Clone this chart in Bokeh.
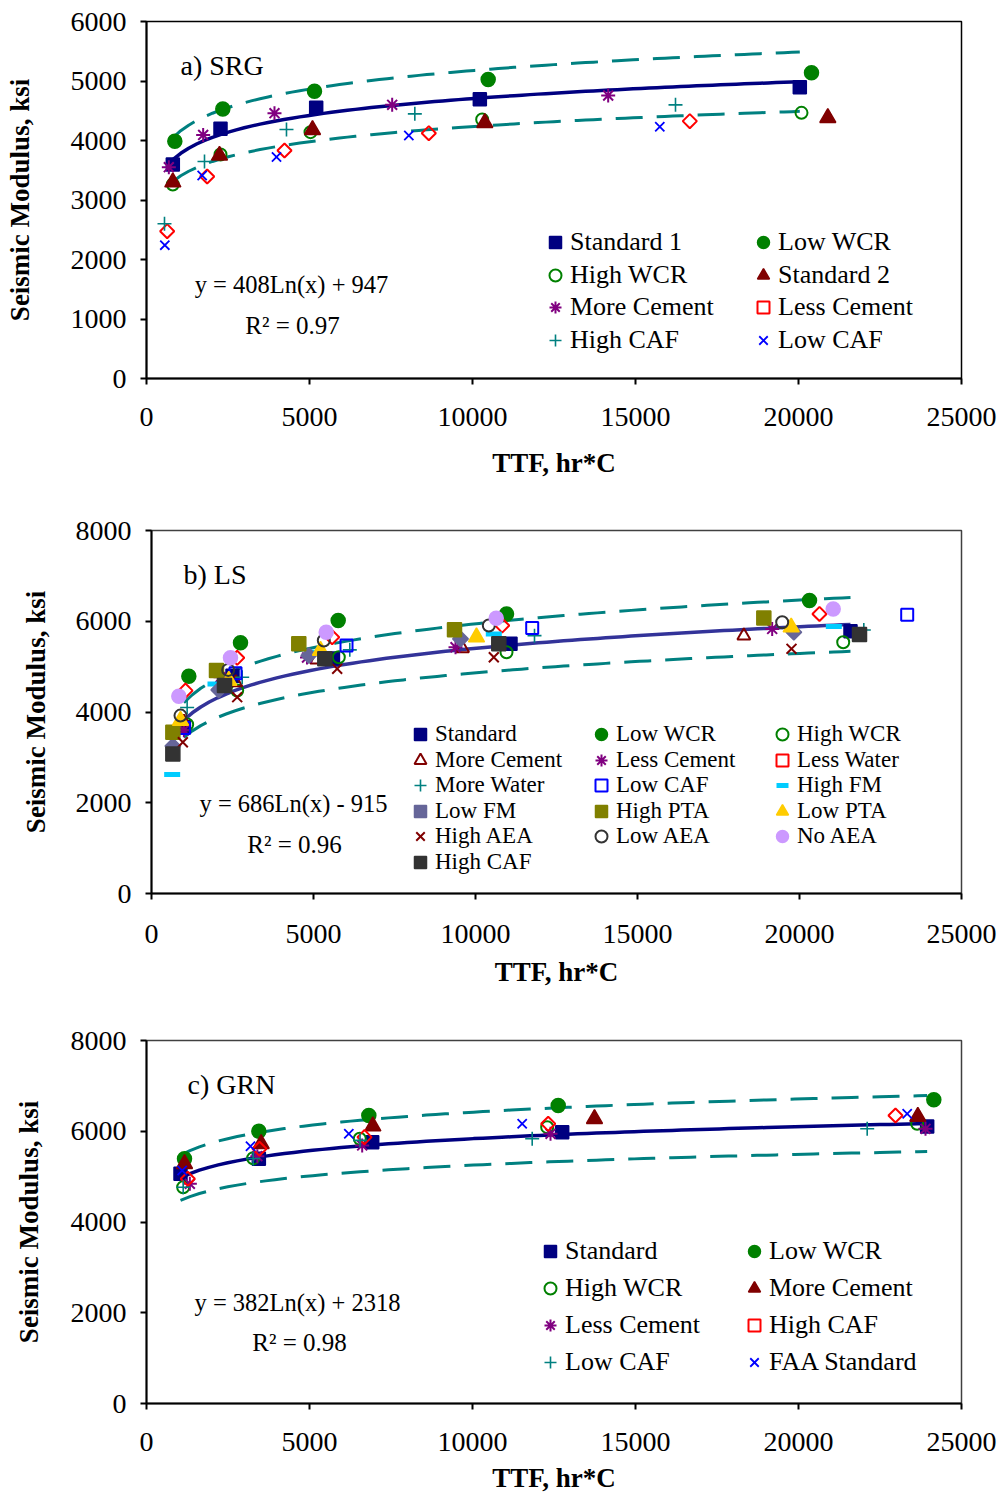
import numpy as np
from bokeh.plotting import figure
from bokeh.layouts import column
from bokeh.models import Legend, LegendItem, Label, FixedTicker, Range1d
from bokeh.embed import file_html
from bokeh.resources import INLINE

FONT = "Liberation Serif"

# ---------------- data: panel a) SRG ----------------
A_NAMES = ["Standard 1", "Low WCR", "High WCR", "Standard 2",
           "More Cement", "Less Cement", "High CAF", "Low CAF"]
a_standard1_x = [807, 2270, 5205, 10225, 20040]
a_standard1_y = [3597, 4197, 4549, 4695, 4896]
a_lowwcr_x = [869, 2341, 5153, 10481, 20399]
a_lowwcr_y = [3989, 4530, 4829, 5025, 5137]
a_highwcr_x = [807, 2270, 5031, 10297, 20092]
a_highwcr_y = [3261, 3765, 4140, 4353, 4465]
a_standard2_x = [807, 2239, 5092, 10377, 20899]
a_standard2_y = [3300, 3748, 4179, 4297, 4381]
a_morecem_x = [685, 1738, 3926, 7536, 14162]
a_morecem_y = [3552, 4094, 4459, 4600, 4756]
a_lesscem_x = [634, 1861, 4233, 8660, 16666]
a_lesscem_y = [2476, 3395, 3832, 4123, 4325]
a_highcaf_x = [552, 1779, 4294, 8231, 16227]
a_highcaf_y = [2600, 3647, 4185, 4448, 4599]
a_lowcaf_x = [562, 1708, 3988, 8047, 15745]
a_lowcaf_y = [2241, 3412, 3722, 4084, 4230]
A_TREND = (408, 947)      # y = a*Ln(x) + b
A_R2 = 0.97

# ---------------- data: panel b) LS ----------------
B_NAMES = ["Standard", "Low WCR", "High WCR", "More Cement", "Less Cement",
           "Less Water", "More Water", "Low CAF", "High FM", "Low FM",
           "High PTA", "Low PTA", "High AEA", "Low AEA", "No AEA", "High CAF"]
b_standard_x = [1000, 2500, 5600, 11080, 21574]
b_standard_y = [3664, 4800, 5180, 5502, 5780]
b_lowwcr_x = [1152, 2747, 5762, 10957, 20309]
b_lowwcr_y = [4787, 5524, 6016, 6161, 6456]
b_highwcr_x = [1101, 2645, 5781, 10957, 21349]
b_highwcr_y = [3723, 4473, 5207, 5317, 5538]
b_morecem_x = [1000, 2600, 5100, 9600, 18282]
b_morecem_y = [3780, 4650, 5150, 5400, 5683]
b_lesscem_x = [1000, 2130, 4800, 9383, 19157]
b_lesscem_y = [3600, 4766, 5200, 5427, 5831]
b_lesswater_x = [1049, 2645, 5577, 10824, 20617]
b_lesswater_y = [4471, 5194, 5648, 5905, 6161]
b_morewater_x = [1100, 2799, 6120, 11821, 21985]
b_morewater_y = [4100, 4766, 5370, 5683, 5808]
b_lowcaf_x = [1000, 2593, 6019, 11750, 23324]
b_lowcaf_y = [3650, 4854, 5465, 5852, 6146]
b_highfm_x = [638, 1975, 5009, 10565, 21059]
b_highfm_y = [2621, 4619, 5317, 5720, 5883]
b_lowfm_x = [659, 2077, 4855, 9537, 19825]
b_lowfm_y = [3250, 4488, 5245, 5612, 5758]
b_highpta_x = [659, 2006, 4546, 9352, 18899]
b_highpta_y = [3554, 4912, 5502, 5810, 6073]
b_lowpta_x = [895, 2386, 5216, 10031, 19744]
b_lowpta_y = [3811, 4694, 5355, 5648, 5868]
b_highaea_x = [967, 2645, 5731, 10565, 19753]
b_highaea_y = [3334, 4326, 4952, 5207, 5392]
b_lowaea_x = [895, 2367, 5318, 10411, 19466]
b_lowaea_y = [3921, 4928, 5575, 5905, 5978]
b_noaea_x = [843, 2438, 5392, 10639, 21040]
b_noaea_y = [4346, 5194, 5758, 6065, 6271]
b_highcaf_x = [659, 2253, 5349, 10719, 21852]
b_highcaf_y = [3077, 4583, 5172, 5502, 5707]
B_TREND = (686, -915)
B_R2 = 0.96

# ---------------- data: panel c) GRN ----------------
C_NAMES = ["Standard", "Low WCR", "High WCR", "More Cement",
           "Less Cement", "High CAF", "Low CAF", "FAA Standard"]
c_standard_x = [1043, 3446, 6923, 12751, 23947]
c_standard_y = [5063, 5393, 5760, 5980, 6105]
c_lowwcr_x = [1166, 3446, 6820, 12629, 24151]
c_lowwcr_y = [5393, 6001, 6347, 6567, 6692]
c_highwcr_x = [1125, 3272, 6543, 12291, 23640]
c_highwcr_y = [4767, 5406, 5835, 6090, 6164]
c_morecem_x = [1166, 3517, 6943, 13742, 23660]
c_morecem_y = [5283, 5723, 6111, 6274, 6324]
c_lesscem_x = [1330, 3400, 6616, 12393, 23896]
c_lesscem_y = [4842, 5450, 5687, 5944, 6054]
c_highcaf_x = [1267, 3466, 6687, 12322, 22975]
c_highcaf_y = [4952, 5613, 5870, 6164, 6347]
c_lowcaf_x = [1125, 3272, 6550, 11831, 22107]
c_lowcaf_y = [4767, 5400, 5800, 5834, 6054]
c_faa_x = [1094, 3190, 6206, 11524, 23334]
c_faa_y = [5135, 5670, 5944, 6164, 6384]
C_TREND = (382, 2318)
C_R2 = 0.98

BAND = 0.10  # +/- 10 % bounds

X_TICKS = [0, 5000, 10000, 15000, 20000, 25000]

# ---------------- styles ----------------
def sty(marker, color, fill=True, size=12, angle=0.0, lw=1.5):
    return dict(marker=marker, line_color=color, fill_color=color if fill else None,
                size=size, angle=angle, line_width=lw)

NAVY, GREEN, DRED, PURPLE = "#000080", "#008000", "#800000", "#800080"
RED, TEAL, BLUE = "#FF0000", "#008080", "#0000FF"

A_STYLE = {
    "Standard 1": sty("square", NAVY, size=13),
    "Low WCR": sty("circle", GREEN, size=14),
    "High WCR": sty("circle", GREEN, fill=False, size=12, lw=2),
    "Standard 2": sty("triangle", DRED, size=16),
    "More Cement": sty("asterisk", PURPLE, size=14, lw=2),
    "Less Cement": sty("square", RED, fill=False, size=10, angle=np.pi / 4, lw=2),
    "High CAF": sty("cross", TEAL, size=14, lw=1.6),
    "Low CAF": sty("x", BLUE, size=13, lw=1.8),
}
B_STYLE = {
    "Standard": sty("square", NAVY, size=13),
    "Low WCR": sty("circle", GREEN, size=14),
    "High WCR": sty("circle", GREEN, fill=False, size=12, lw=2),
    "More Cement": sty("triangle", DRED, fill=False, size=13, lw=2),
    "Less Cement": sty("asterisk", PURPLE, size=14, lw=2),
    "Less Water": sty("square", RED, fill=False, size=10, angle=np.pi / 4, lw=2),
    "More Water": sty("cross", TEAL, size=14, lw=1.6),
    "Low CAF": sty("square", BLUE, fill=False, size=12, lw=2),
    "High FM": sty("dash", "#00CCFF", size=16, lw=5),
    "Low FM": sty("square", "#666699", size=11, angle=np.pi / 4),
    "High PTA": sty("square", "#808000", size=14),
    "Low PTA": sty("triangle", "#FFCC00", size=16),
    "High AEA": sty("x", DRED, size=14, lw=2),
    "Low AEA": sty("circle", "#333333", fill=False, size=12, lw=2),
    "No AEA": sty("circle", "#CC99FF", size=14),
    "High CAF": sty("square", "#333333", size=14),
}
C_STYLE = {
    "Standard": sty("square", NAVY, size=13),
    "Low WCR": sty("circle", GREEN, size=14),
    "High WCR": sty("circle", GREEN, fill=False, size=12, lw=2),
    "More Cement": sty("triangle", DRED, size=16),
    "Less Cement": sty("asterisk", PURPLE, size=14, lw=2),
    "High CAF": sty("square", RED, fill=False, size=10, angle=np.pi / 4, lw=2),
    "Low CAF": sty("cross", TEAL, size=14, lw=1.6),
    "FAA Standard": sty("x", BLUE, size=13, lw=1.8),
}

A_DATA = [(a_standard1_x, a_standard1_y), (a_lowwcr_x, a_lowwcr_y), (a_highwcr_x, a_highwcr_y),
          (a_standard2_x, a_standard2_y), (a_morecem_x, a_morecem_y), (a_lesscem_x, a_lesscem_y),
          (a_highcaf_x, a_highcaf_y), (a_lowcaf_x, a_lowcaf_y)]
B_DATA = [(b_standard_x, b_standard_y), (b_lowwcr_x, b_lowwcr_y), (b_highwcr_x, b_highwcr_y),
          (b_morecem_x, b_morecem_y), (b_lesscem_x, b_lesscem_y), (b_lesswater_x, b_lesswater_y),
          (b_morewater_x, b_morewater_y), (b_lowcaf_x, b_lowcaf_y), (b_highfm_x, b_highfm_y),
          (b_lowfm_x, b_lowfm_y), (b_highpta_x, b_highpta_y), (b_lowpta_x, b_lowpta_y),
          (b_highaea_x, b_highaea_y), (b_lowaea_x, b_lowaea_y), (b_noaea_x, b_noaea_y),
          (b_highcaf_x, b_highcaf_y)]
C_DATA = [(c_standard_x, c_standard_y), (c_lowwcr_x, c_lowwcr_y), (c_highwcr_x, c_highwcr_y),
          (c_morecem_x, c_morecem_y), (c_lesscem_x, c_lesscem_y), (c_highcaf_x, c_highcaf_y),
          (c_lowcaf_x, c_lowcaf_y), (c_faa_x, c_faa_y)]


def panel(height, top, frame_h, bottom_border, left, y_end, y_step, names, data, style,
          trend, r2, trend_color, title, title_pos, eq_pos, r2_pos,
          leg_x, leg_y, leg_pitch, ncols, label_width, leg_font, ylab_standoff,
          tick_standoff, xlab_standoff, outline):
    p = figure(width=1000, height=height, output_backend="svg", toolbar_location=None,
               x_range=Range1d(0, 25000), y_range=Range1d(0, y_end),
               min_border_left=left, min_border_right=39,
               min_border_top=top, min_border_bottom=bottom_border)
    p.frame_align = False
    p.xgrid.visible = False
    p.ygrid.visible = False
    p.outline_line_color = outline
    p.outline_line_width = 1.5
    p.background_fill_color = "white"
    p.border_fill_color = "white"
    p.xaxis.ticker = FixedTicker(ticks=X_TICKS)
    p.yaxis.ticker = FixedTicker(ticks=list(range(0, y_end + 1, y_step)))
    p.xaxis.axis_label = "TTF, hr*C"
    p.yaxis.axis_label = "Seismic Modulus, ksi"
    for ax in (p.xaxis[0], p.yaxis[0]):
        ax.axis_line_color = "black"
        ax.axis_line_width = 2
        ax.major_tick_line_color = "black"
        ax.major_tick_line_width = 2
        ax.major_tick_out = 6
        ax.major_tick_in = 0
        ax.minor_tick_line_color = None
        ax.major_label_text_font = FONT
        ax.major_label_text_font_size = "28px"
        ax.major_label_text_color = "black"
        ax.axis_label_text_font = FONT
        ax.axis_label_text_font_style = "bold"
        ax.axis_label_text_font_size = "27px"
        ax.axis_label_text_color = "black"
    p.xaxis.major_label_standoff = tick_standoff
    p.yaxis.major_label_standoff = 14
    p.xaxis.axis_label_standoff = xlab_standoff
    p.yaxis.axis_label_standoff = ylab_standoff

    # trend line (from the fitted equation printed on the chart) and +/-10 % bounds
    sx = data[0][0]
    xt = np.linspace(min(sx), max(sx), 80)
    yt = trend[0] * np.log(xt) + trend[1]
    p.line(xt, yt * (1 + BAND), line_color=TEAL, line_width=3, line_dash="27 14")
    p.line(xt, yt * (1 - BAND), line_color=TEAL, line_width=3, line_dash="27 14")
    p.line(xt, yt, line_color=trend_color, line_width=3.5)

    items = []
    for name, (xs, ys) in zip(names, data):
        r = p.scatter(xs, ys, **style[name])
        items.append(LegendItem(label=name, renderers=[r]))

    # one legend per row, so that the row pitch follows the original
    rows = [items[i:i + ncols] for i in range(0, len(items), ncols)]
    nrows = len(rows)
    for k, row in enumerate(rows):
        y = leg_y + (nrows - 1 - k) * leg_pitch
        leg = Legend(items=row, location=(leg_x, round(y)), orientation="horizontal",
                     ncols=ncols, label_text_font=FONT, label_text_font_size=leg_font,
                     label_text_color="black", glyph_width=30, glyph_height=30,
                     label_standoff=0, label_width=label_width, label_height=20,
                     spacing=0, padding=0, margin=0, border_line_alpha=0,
                     background_fill_alpha=0, label_text_line_height=1.0)
        p.add_layout(leg)

    sign = "+" if trend[1] >= 0 else "-"
    lab_kw = dict(text_font=FONT, text_color="black", text_baseline="middle")
    p.add_layout(Label(x=title_pos[0], y=title_pos[1], text=title,
                       text_font_size="28px", **lab_kw))
    p.add_layout(Label(x=eq_pos[0], y=eq_pos[1], text_align="center", text_font_size="24.5px",
                       text=f"y = {trend[0]}Ln(x) {sign} {abs(trend[1])}", **lab_kw))
    p.add_layout(Label(x=r2_pos[0], y=r2_pos[1], text_align="center", text_font_size="25px",
                       text=f"R\u00b2 = {r2:.2f}", **lab_kw))
    return p


pa = panel(490, 21, 357, 112, 146, 6000, 1000, A_NAMES, A_DATA, A_STYLE, A_TREND, A_R2,
           NAVY, "a) SRG", (1043, 5260), (4448, 1580), (4480, 890),
           394, 23, 32.7, 2, 178, "26px", 33, 23, 19, "black")
pb = panel(505, 40, 363, 102, 151, 8000, 2000, B_NAMES, B_DATA, B_STYLE, B_TREND, B_R2,
           "#333399", "b) LS", (988, 7026), (4383, 1982), (4414, 1079),
           254, 16, 25.6, 3, 151, "23px", 22, 25, 11, "#404040")
pc = panel(503, 45, 363, 95, 146, 8000, 2000, C_NAMES, C_DATA, C_STYLE, C_TREND, C_R2,
           NAVY, "c) GRN", (1258, 7030), (4632, 2226), (4693, 1344),
           389, 26, 37, 2, 174, "26px", 24, 23, 9, "#404040")

layout = column(pa, pb, pc, spacing=0)
open("out.html", "w").write(file_html(layout, INLINE))
